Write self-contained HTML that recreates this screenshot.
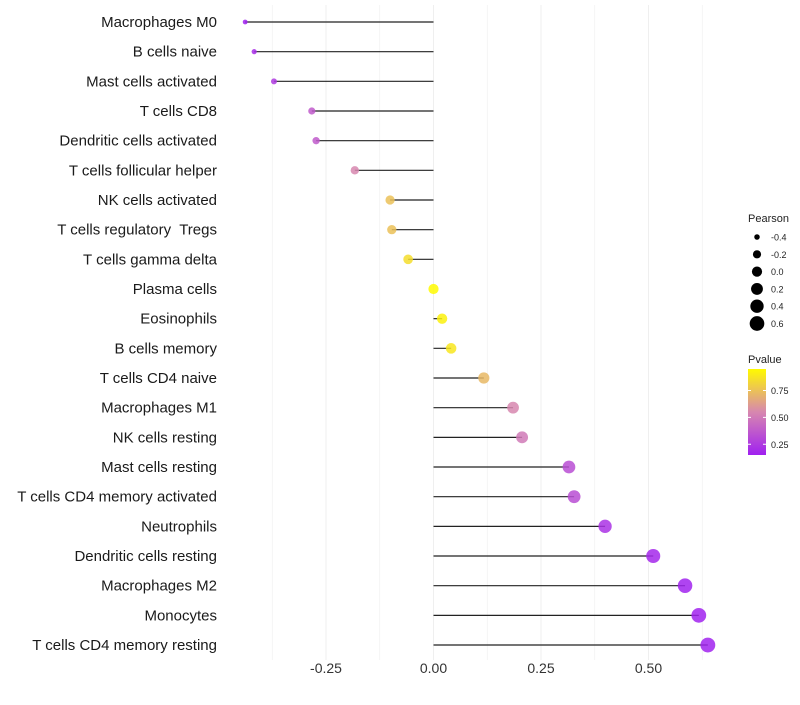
<!DOCTYPE html>
<html><head><meta charset="utf-8"><style>
body{margin:0;background:#fff;font-family:"Liberation Sans",sans-serif}
text{white-space:pre}
</style></head><body>
<svg id="chart" width="800" height="700" xmlns="http://www.w3.org/2000/svg"></svg>
<script>
const categories=["Macrophages M0","B cells naive","Mast cells activated","T cells CD8","Dendritic cells activated","T cells follicular helper","NK cells activated","T cells regulatory  Tregs","T cells gamma delta","Plasma cells","Eosinophils","B cells memory","T cells CD4 naive","Macrophages M1","NK cells resting","Mast cells resting","T cells CD4 memory activated","Neutrophils","Dendritic cells resting","Macrophages M2","Monocytes","T cells CD4 memory resting"];
const pearson=[-0.438,-0.417,-0.371,-0.283,-0.273,-0.183,-0.101,-0.097,-0.059,0.0,0.02,0.041,0.117,0.185,0.206,0.315,0.327,0.399,0.511,0.585,0.617,0.638];
const pvalue=[0.15,0.2,0.25,0.38,0.38,0.55,0.75,0.75,0.85,0.97,0.92,0.88,0.72,0.55,0.5,0.33,0.33,0.22,0.18,0.16,0.16,0.16];
const xTicks=[-0.25,0,0.25,0.5];
const xTickLabels=["-0.25","0.00","0.25","0.50"];
const sizeLegend=[-0.4,-0.2,0.0,0.2,0.4,0.6];
const colorTicks=[0.25,0.5,0.75];

const svg=document.getElementById('chart');
const NS="http://www.w3.org/2000/svg";
const x0=433.5, pxPer=430;
const xs=v=>x0+v*pxPer;
const ys=i=>22+i*29.667;
const rs=v=>Math.sqrt(Math.max(4,26+46*v));
const pmin=0.15,pmax=0.95;
function col(p){let t=Math.max(0,Math.min(1,(p-pmin)/(pmax-pmin)));
 const a=[160,32,240],m=[215,135,175],b=[255,250,0];
 let c0,c1,u; if(t<0.5){c0=a;c1=m;u=t*2;}else{c0=m;c1=b;u=(t-0.5)*2;}
 return `rgb(${c0.map((c,i)=>Math.round(c+(c1[i]-c)*u)).join(',')})`;}
function el(tag,attrs,parent){const e=document.createElementNS(NS,tag);for(const k in attrs)e.setAttribute(k,attrs[k]);(parent||svg).appendChild(e);return e;}

for(let g=-0.375;g<=0.625;g+=0.125){
 const l=el('line',{x1:xs(g),x2:xs(g),y1:5,y2:660,stroke:'#efefef','stroke-width':Math.abs((g*4)%1)<1e-6?1:0.6});
 
 
}
xTicks.forEach((t,i)=>{
 const tx=el('text',{x:xs(t),y:673,'font-size':14,'text-anchor':'middle',fill:'#333'});
 tx.textContent=xTickLabels[i];
 
 
});
categories.forEach((c,i)=>{
 const y=ys(i);
 const t=el('text',{x:217,y:y+5,'font-size':15,'text-anchor':'end',fill:'#1a1a1a'});
 t.textContent=c;
 
 
 const ln=el('line',{x1:x0,x2:xs(pearson[i]),y1:y,y2:y,stroke:'#222','stroke-width':1.2});
 
 
 const ci=el('circle',{cx:xs(pearson[i]),cy:y,r:rs(pearson[i]),fill:col(pvalue[i]),'fill-opacity':0.85});
 
 
});
const lt=el('text',{x:748,y:222,'font-size':11,fill:'#222'});lt.textContent='Pearson';


sizeLegend.forEach((v,i)=>{
 const y=237+i*17.3;
 const c=el('circle',{cx:757,cy:y,r:rs(v),fill:'#000'});
 
 
 const t=el('text',{x:771,y:y+3.5,'font-size':9,fill:'#222'});t.textContent=v.toFixed(1);
 
 
});
const ct=el('text',{x:748,y:363,'font-size':11,fill:'#222'});ct.textContent='Pvalue';


const defs=el('defs',{});
const lg=el('linearGradient',{id:'pg',x1:0,y1:1,x2:0,y2:0},defs);
[0,0.25,0.5,0.75,1].forEach(o=>el('stop',{offset:o,'stop-color':col(pmin+o*(pmax-pmin))},lg));
const bar=el('rect',{x:748,y:369,width:18,height:86,fill:'url(#pg)'});


const cy=p=>455-(p-pmin)/(pmax-pmin)*86;
colorTicks.forEach(p=>{
 el('line',{x1:748,x2:751,y1:cy(p),y2:cy(p),stroke:'#fff'});
 el('line',{x1:763,x2:766,y1:cy(p),y2:cy(p),stroke:'#fff'});
 const t=el('text',{x:771,y:cy(p)+3.5,'font-size':9,fill:'#222'});t.textContent=p.toFixed(2);
 
 
});
</script>
</body></html>
